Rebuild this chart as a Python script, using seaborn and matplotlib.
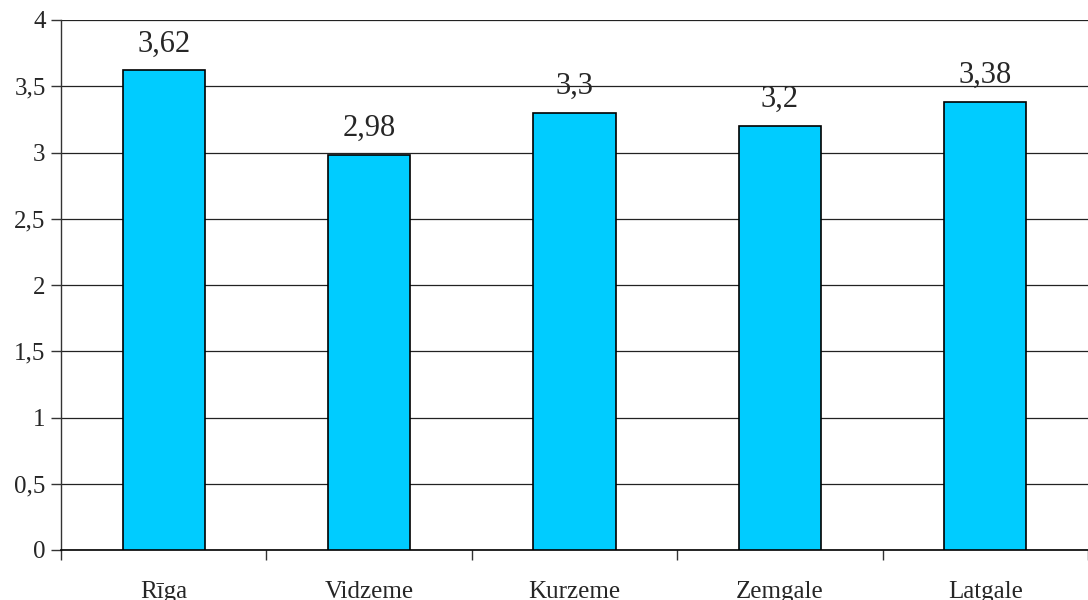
import matplotlib
matplotlib.use("Agg")
import matplotlib.pyplot as plt
import seaborn as sns
import pandas as pd
from matplotlib.ticker import FuncFormatter, FixedLocator

regions = ["Rīga", "Vidzeme", "Kurzeme", "Zemgale", "Latgale"]
scores = [3.62, 2.98, 3.3, 3.2, 3.38]
score_labels = ["3,62", "2,98", "3,3", "3,2", "3,38"]

sns.set_style("white")
plt.rcParams['font.family'] = ['Liberation Serif', 'DejaVu Serif']

df = pd.DataFrame({"region": regions, "score": scores})

fig = plt.figure(figsize=(10.88, 6), dpi=100)
ax = fig.add_axes([61/1088, 50/600, 1 - 61/1088, 530/600])

sns.barplot(data=df, x="region", y="score", color="#00CCFF", width=0.4,
            edgecolor="black", linewidth=1.2, saturation=1, ax=ax, zorder=3)

for p, lab in zip(ax.patches, score_labels):
    ax.text(p.get_x() + p.get_width() / 2, p.get_height() + 0.09, lab,
            ha="center", va="bottom", fontsize=22)

ax.set_ylim(0, 4)
ax.set_xlim(-0.5, 4.5)
ax.set_yticks([0, 0.5, 1, 1.5, 2, 2.5, 3, 3.5, 4])
ax.yaxis.set_major_formatter(FuncFormatter(lambda v, _: f"{v:g}".replace(".", ",")))
ax.grid(axis="y", color="#222222", linewidth=0.9, zorder=0)
ax.set_axisbelow(True)

ax.xaxis.set_minor_locator(FixedLocator([-0.5, 0.5, 1.5, 2.5, 3.5, 4.5]))
ax.tick_params(axis="x", which="major", bottom=True, length=0, pad=22, labelsize=18)
ax.tick_params(axis="x", which="minor", bottom=True, length=7, width=1, color="#333333", direction="out")
ax.tick_params(axis="y", left=True, length=7, width=1, color="#333333", direction="out", labelsize=18, pad=4)
ax.set_xlabel("")
ax.set_ylabel("")

for s in ["top", "right"]:
    ax.spines[s].set_visible(False)
ax.spines["left"].set_color("#333333")
ax.spines["bottom"].set_color("black")
ax.spines["left"].set_linewidth(1)
ax.spines["bottom"].set_linewidth(1.2)

fig.savefig("out.png", dpi=100)
